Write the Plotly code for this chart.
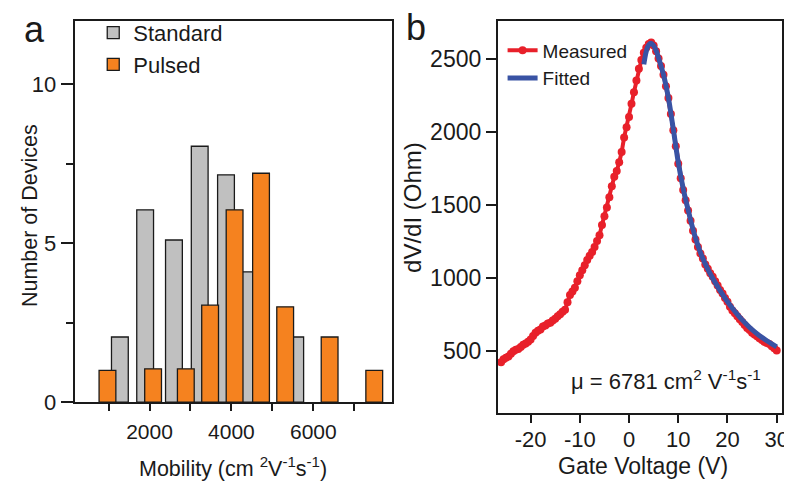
import plotly.graph_objects as go

# ---- Panel a data: histogram of mobility ----
std_x = [1276, 1893, 2596, 3225, 3867, 4315, 5557]
std_n = [2.05, 6.05, 5.1, 8.05, 7.15, 4.1, 2.05]
pul_x = [973, 2087, 2886, 3479, 4077, 4722, 5312, 6397, 7487]
pul_n = [1.0, 1.05, 1.05, 3.05, 6.05, 7.2, 3.0, 2.05, 1.0]
bar_w = 410
a_xticks = [2000, 4000, 6000]
a_yticks = [0, 5, 10]

# ---- Panel b data: dV/dI vs gate voltage ----
meas_v = [-26.0, -25.5, -25.0, -24.5, -24.0, -23.5, -23.0, -22.5, -22.0, -21.5,
          -21.0, -20.5, -20.0, -19.5, -19.0, -18.5, -18.0, -17.5, -17.0, -16.5,
          -16.0, -15.5, -15.0, -14.5, -14.0, -13.5, -13.0, -12.5, -12.0, -11.5,
          -11.0, -10.5, -10.0, -9.5, -9.0, -8.5, -8.0, -7.5, -7.0, -6.5,
          -6.0, -5.5, -5.0, -4.5, -4.0, -3.5, -3.0, -2.5, -2.0, -1.5,
          -1.0, -0.5, 0.0, 0.5, 1.0, 1.5, 2.0, 2.5, 3.0, 3.5,
          4.0, 4.5, 5.0, 5.5, 6.0, 6.5, 7.0, 7.5, 8.0, 8.5,
          9.0, 9.5, 10.0, 10.5, 11.0, 11.5, 12.0, 12.5, 13.0, 13.5,
          14.0, 14.5, 15.0, 15.5, 16.0, 16.5, 17.0, 17.5, 18.0, 18.5,
          19.0, 19.5, 20.0, 20.5, 21.0, 21.5, 22.0, 22.5, 23.0, 23.5,
          24.0, 24.5, 25.0, 25.5, 26.0, 26.5, 27.0, 27.5, 28.0, 28.5,
          29.0, 29.5, 30.0]
meas_r = [420, 440, 450, 460, 478, 495, 505, 510, 525, 540,
          548, 560, 575, 600, 622, 635, 645, 665, 672, 685,
          690, 705, 718, 735, 748, 765, 780, 830, 880, 905,
          930, 975, 1015, 1050, 1085, 1120, 1150, 1175, 1210, 1250,
          1290, 1360, 1420, 1480, 1550, 1625, 1690, 1730, 1790, 1860,
          1960, 2030, 2100, 2190, 2270, 2350, 2430, 2490, 2540, 2575,
          2600, 2610, 2590, 2550, 2500, 2450, 2390, 2310, 2230, 2120,
          2010, 1900, 1780, 1680, 1600, 1530, 1460, 1390, 1320, 1260,
          1210, 1165, 1130, 1090, 1060, 1030, 1005, 975, 945, 915,
          890, 860, 835, 800, 775, 755, 735, 715, 695, 675,
          655, 640, 622, 610, 598, 585, 572, 560, 552, 545,
          530, 515, 500]
fit_v = [3.0, 3.5, 4.0, 4.5, 5.0, 5.5, 6.0, 7.0, 8.0, 9.0, 10.0, 11.0, 12.0,
         13.0, 14.0, 15.0, 16.0, 17.0, 18.0, 19.0, 20.0, 21.0, 22.0, 23.0,
         24.0, 25.0, 26.0, 27.0, 28.0, 29.0, 30.0]
fit_r = [2460, 2550, 2595, 2605, 2590, 2555, 2505, 2390, 2230, 2015, 1790,
         1610, 1465, 1330, 1220, 1130, 1058, 995, 938, 885, 835, 790, 748,
         710, 675, 643, 615, 590, 567, 545, 525]
b_xticks = [-20, -10, 0, 10, 20, 30]
b_xticktext = ["-20", "-10", "0", "10", "20", "30"]
b_yticks = [500, 1000, 1500, 2000, 2500]

FONT = "Liberation Sans, Arial, sans-serif"
GREY = "#c0c0c0"
ORANGE = "#f5821f"
RED = "#e8202a"
BLUE = "#3953a4"
INK = "#1a1a1a"

fig = go.Figure()
fig.add_trace(go.Bar(x=std_x, y=std_n, width=bar_w, name="Standard",
                     marker=dict(color=GREY, line=dict(color=INK, width=1.3)),
                     xaxis="x", yaxis="y", legend="legend"))
fig.add_trace(go.Bar(x=pul_x, y=pul_n, width=bar_w, name="Pulsed",
                     marker=dict(color=ORANGE, line=dict(color=INK, width=1.3)),
                     xaxis="x", yaxis="y", legend="legend"))
fig.add_trace(go.Scatter(x=meas_v, y=meas_r, mode="lines+markers", name="Measured",
                         line=dict(color=RED, width=4),
                         marker=dict(color=RED, size=8),
                         xaxis="x2", yaxis="y2", legend="legend2"))
fig.add_trace(go.Scatter(x=fit_v, y=fit_r, mode="lines", name="Fitted",
                         line=dict(color=BLUE, width=5, shape="spline"),
                         xaxis="x2", yaxis="y2", legend="legend2"))

axis_common = dict(showline=True, linecolor=INK, linewidth=1.5, mirror=True,
                   ticks="outside", tickcolor=INK, tickwidth=1.5,
                   showgrid=False, zeroline=False)

fig.update_layout(
    width=792, height=486,
    margin=dict(l=0, r=0, t=0, b=0),
    paper_bgcolor="white", plot_bgcolor="white",
    font=dict(family=FONT, color=INK),
    barmode="overlay",
    xaxis=dict(domain=[68/792, 387/792], range=[190, 7910],
               tickvals=a_xticks, ticklen=7, ticklabelstandoff=3,
               minor=dict(dtick=1000, tick0=0, ticklen=7, ticks="outside",
                          tickcolor=INK, tickwidth=1.5),
               tickfont=dict(size=21, family=FONT), anchor="y", **axis_common),
    yaxis=dict(domain=[1-405/486, 1-13/486], range=[0, 12],
               tickvals=a_yticks, ticklen=13,
               minor=dict(dtick=2.5, tick0=0, ticklen=8, ticks="outside",
                          tickcolor=INK, tickwidth=1.5),
               tickfont=dict(size=22, family=FONT), anchor="x", **axis_common),
    xaxis2=dict(domain=[494/792, 781/792], range=[-26.7, 31.1],
                tickvals=b_xticks, ticktext=b_xticktext, ticklen=9,
                ticklabelstandoff=-3,
                tickfont=dict(size=22, family=FONT), anchor="y2", **axis_common),
    yaxis2=dict(domain=[1-415.7/486, 1-13/486], range=[75, 2760],
                tickvals=b_yticks, ticklen=10,
                tickfont=dict(size=23, family=FONT), anchor="x2", **axis_common),
    legend=dict(x=86/792, y=1-4/486, xanchor="left", yanchor="top",
                bgcolor="rgba(0,0,0,0)", font=dict(size=22, family=FONT),
                itemwidth=30, tracegroupgap=0),
    legend2=dict(x=499/792, y=1-24/486, xanchor="left", yanchor="top",
                 bgcolor="rgba(0,0,0,0)", font=dict(size=19, family=FONT),
                 itemwidth=30, tracegroupgap=0),
    annotations=[
        dict(text="a", x=27/792, y=1-22/486, xref="paper", yref="paper",
             showarrow=False, font=dict(size=36, family=FONT, color=INK),
             xanchor="center", yanchor="middle"),
        dict(text="b", x=412/792, y=1-20/486, xref="paper", yref="paper",
             showarrow=False, font=dict(size=36, family=FONT, color=INK),
             xanchor="center", yanchor="middle"),
        dict(text="Number of Devices", x=22/792, y=1-213/486, xref="paper", yref="paper",
             textangle=-90, showarrow=False, font=dict(size=21.5, family=FONT),
             xanchor="center", yanchor="middle"),
        dict(text="Mobility (cm <sup>2</sup>V<sup>-1</sup>s<sup>-1</sup>)",
             x=227/792, y=1-472/486, xref="paper", yref="paper",
             showarrow=False, font=dict(size=21.5, family=FONT),
             xanchor="center", yanchor="middle"),
        dict(text="dV/dI (Ohm)", x=408/792, y=1-205/486, xref="paper", yref="paper",
             textangle=-90, showarrow=False, font=dict(size=24, family=FONT),
             xanchor="center", yanchor="middle"),
        dict(text="Gate Voltage (V)", x=641/792, y=1-471/486, xref="paper", yref="paper",
             showarrow=False, font=dict(size=23, family=FONT),
             xanchor="center", yanchor="middle"),
        dict(text="\u03bc = 6781 cm<sup>2</sup> V<sup>-1</sup>s<sup>-1</sup>",
             x=566/792, y=1-382/486, xref="paper", yref="paper",
             showarrow=False, font=dict(size=22, family=FONT),
             xanchor="left", yanchor="middle"),
    ],
)

fig.write_html("out.html")
